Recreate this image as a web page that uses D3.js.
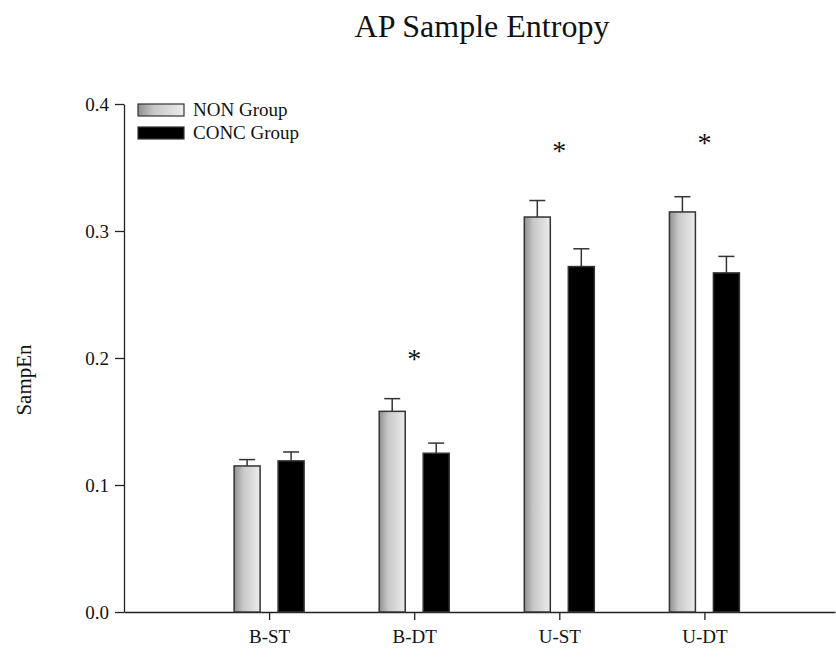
<!DOCTYPE html>
<html lang="en">
<head>
  <meta charset="utf-8">
  <title>AP Sample Entropy</title>
  <script src="https://d3js.org/d3.v7.min.js"></script>
  <style>
    body {
      margin: 0;
      background: #ffffff;
    }
    svg text {
      font-family: "Liberation Serif", "Times New Roman", serif;
      fill: #111;
    }
    .axis path, .axis line {
      stroke: #222;
      stroke-width: 1.3px;
    }
  </style>
</head>
<body>
<script>
// chart values
var categories = ["B-ST", "B-DT", "U-ST", "U-DT"];
var groups = ["NON Group", "CONC Group"];
var nonMeans = [0.115, 0.158, 0.311, 0.315];
var nonErr = [0.005, 0.010, 0.013, 0.012];
var concMeans = [0.119, 0.125, 0.272, 0.267];
var concErr = [0.007, 0.008, 0.014, 0.013];
var starLevel = [null, 0.204, 0.368, 0.374];
var yTicks = [0.0, 0.1, 0.2, 0.3, 0.4];

var width = 836, height = 657;
var plotLeft = 124, plotRight = 835, plotTop = 104, plotBottom = 612;

var svg = d3.select("body").append("svg")
    .attr("width", width)
    .attr("height", height);

var defs = svg.append("defs");
var grad = defs.append("linearGradient")
    .attr("id", "nonFill")
    .attr("x1", "0%").attr("x2", "100%")
    .attr("y1", "0%").attr("y2", "0%");
grad.append("stop").attr("offset", "0%").attr("stop-color", "#8f8f8f");
grad.append("stop").attr("offset", "35%").attr("stop-color", "#c8c8c8");
grad.append("stop").attr("offset", "100%").attr("stop-color", "#ececec");

var x = d3.scaleLinear().domain([0, 4.9]).range([plotLeft, plotRight]);
var y = d3.scaleLinear().domain([0, 0.4]).range([plotBottom, plotTop]);

var barW = 26, offset = 22;

// title
svg.append("text")
    .attr("x", 482)
    .attr("y", 37)
    .attr("text-anchor", "middle")
    .style("font-size", "32px")
    .text("AP Sample Entropy");

// y axis
svg.append("g")
    .attr("class", "axis")
    .attr("transform", "translate(" + plotLeft + ",0)")
    .call(d3.axisLeft(y).tickValues(yTicks).tickFormat(d3.format(".1f")).tickSize(9).tickSizeOuter(0))
    .call(g => g.selectAll("text").style("font-size", "19px").attr("x", -15).attr("fill", "#111"));

// x axis
var xAxis = svg.append("g")
    .attr("class", "axis")
    .attr("transform", "translate(0," + plotBottom + ")")
    .call(d3.axisBottom(x).tickValues([1, 2, 3, 4]).tickFormat((d, i) => categories[i]).tickSize(8).tickSizeOuter(0));
xAxis.selectAll("text")
    .style("font-size", "19px")
    .attr("y", 18)
    .attr("fill", "#111");

svg.append("text")
    .attr("transform", "translate(31,380) rotate(-90)")
    .attr("text-anchor", "middle")
    .style("font-size", "21px")
    .text("SampEn");

var series = [
  { means: nonMeans, err: nonErr, fill: "url(#nonFill)", dx: -offset },
  { means: concMeans, err: concErr, fill: "#000000", dx: offset }
];

series.forEach(function(s) {
  var g = svg.append("g");
  var items = categories.map((c, i) => ({ i: i, m: s.means[i], e: s.err[i] }));

  // error bars (upper only)
  g.selectAll("line.err")
      .data(items)
      .enter().append("line")
      .attr("class", "err")
      .attr("x1", d => x(d.i + 1) + s.dx)
      .attr("x2", d => x(d.i + 1) + s.dx)
      .attr("y1", d => y(d.m))
      .attr("y2", d => y(d.m + d.e))
      .attr("stroke", "#333")
      .attr("stroke-width", 1.5);
  g.selectAll("line.cap")
      .data(items)
      .enter().append("line")
      .attr("class", "cap")
      .attr("x1", d => x(d.i + 1) + s.dx - 8)
      .attr("x2", d => x(d.i + 1) + s.dx + 8)
      .attr("y1", d => y(d.m + d.e))
      .attr("y2", d => y(d.m + d.e))
      .attr("stroke", "#333")
      .attr("stroke-width", 1.5);

  g.selectAll("rect")
      .data(items)
      .enter().append("rect")
      .attr("x", d => x(d.i + 1) + s.dx - barW / 2)
      .attr("y", d => y(d.m))
      .attr("width", barW)
      .attr("height", d => y(0) - y(d.m))
      .attr("fill", s.fill)
      .attr("stroke", "#333")
      .attr("stroke-width", 1.5);
});

// significance markers
svg.selectAll("text.star")
    .data(starLevel.map((v, i) => ({ i: i, v: v })).filter(d => d.v !== null))
    .enter().append("text")
    .attr("class", "star")
    .attr("x", d => x(d.i + 1))
    .attr("y", d => y(d.v) + 15)
    .attr("text-anchor", "middle")
    .style("font-size", "28px")
    .text("*");

// legend
var legend = svg.append("g").attr("transform", "translate(138,104)");
groups.forEach(function(name, i) {
  legend.append("rect")
      .attr("x", 0)
      .attr("y", i * 23)
      .attr("width", 46)
      .attr("height", 12)
      .attr("fill", i === 0 ? "url(#nonFill)" : "#000")
      .attr("stroke", "#333")
      .attr("stroke-width", 1.2);
  legend.append("text")
      .attr("x", 55)
      .attr("y", i * 23 + 12)
      .style("font-size", "19px")
      .text(name);
});
</script>
</body>
</html>
